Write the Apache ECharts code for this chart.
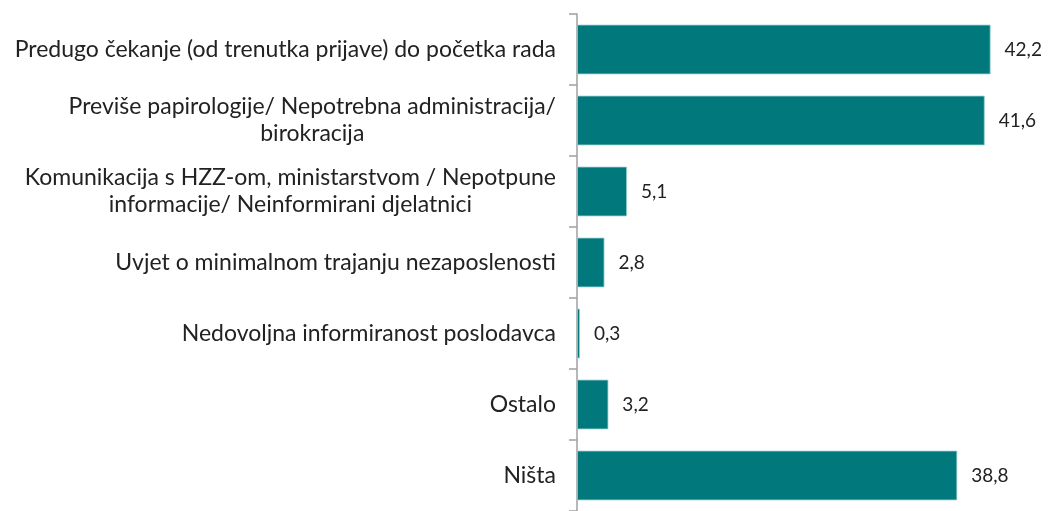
<!DOCTYPE html>
<html>
<head>
<meta charset="utf-8">
<script src="https://cdn.jsdelivr.net/npm/echarts@6/dist/echarts.min.js"></script>
<style>
    html, body { margin: 0; padding: 0; background: #fff; }
    #chart { width: 1049px; height: 511px; }
</style>
</head>
<body>
<div id="chart"></div>
<script>
var categories = [
    'Predugo čekanje (od trenutka prijave) do početka rada',
    'Previše papirologije/ Nepotrebna administracija/\nbirokracija',
    'Komunikacija s HZZ-om, ministarstvom / Nepotpune\ninformacije/ Neinformirani djelatnici',
    'Uvjet o minimalnom trajanju nezaposlenosti',
    'Nedovoljna informiranost poslodavca',
    'Ostalo',
    'Ništa'
];
var values = [42.2, 41.6, 5.1, 2.8, 0.3, 3.2, 38.8];

var fontName = 'Lato';

function initChart() {
    var chart = echarts.init(document.getElementById('chart'));
    chart.setOption({
        animation: false,
        grid: {
            left: 577,
            top: 14,
            width: 441,
            height: 500
        },
        xAxis: {
            type: 'value',
            min: 0,
            max: 45,
            show: false
        },
        yAxis: {
            type: 'category',
            inverse: true,
            data: categories,
            axisLine: { show: true, lineStyle: { color: '#a0a0a0', width: 1.5 } },
            axisTick: { show: true, length: 8, alignWithLabel: false, lineStyle: { color: '#a0a0a0', width: 1.5 } },
            axisLabel: {
                margin: 21,
                formatter: function (v) {
                    return v.split('\n').map(function (s) {
                        return '{c|' + s + '}';
                    }).join('\n');
                },
                rich: {
                    c: {
                        align: 'center',
                        fontFamily: fontName,
                        fontSize: 23,
                        lineHeight: 27,
                        color: '#222'
                    }
                }
            }
        },
        series: [{
            type: 'bar',
            data: values,
            barCategoryGap: '30%',
            itemStyle: {
                color: '#00787c',
                borderColor: '#9ccfd0',
                borderWidth: 0.8
            },
            label: {
                show: true,
                position: 'right',
                distance: 14,
                fontFamily: fontName,
                fontSize: 19,
                color: '#222',
                formatter: function (p) {
                    return p.value.toFixed(1).replace('.', ',');
                }
            }
        }]
    });
}

initChart();
</script>
</body>
</html>
